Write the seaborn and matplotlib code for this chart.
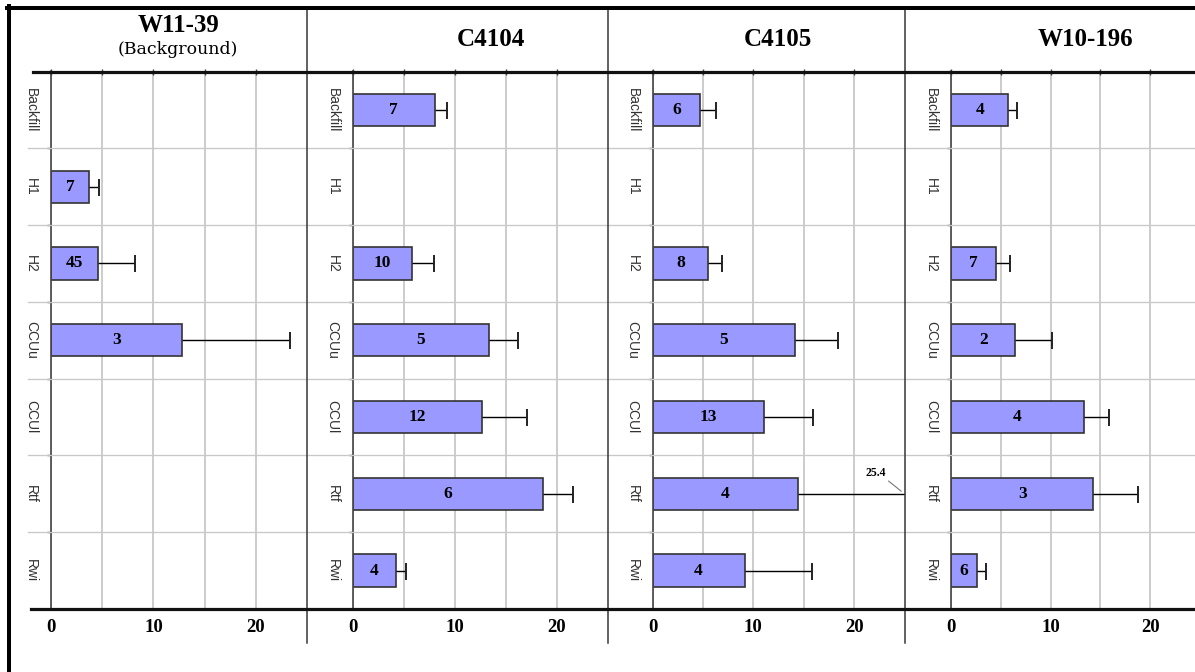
import numpy as np
import pandas as pd
import matplotlib
matplotlib.use("Agg")
import matplotlib.pyplot as plt
from matplotlib.lines import Line2D
import seaborn as sns

# ---- data -------------------------------------------------------------
layers = ["Backfill", "H1", "H2", "CCUu", "CCUl", "Rtf", "Rwi"]
wells = ["W11-39", "C4104", "C4105", "W10-196"]
subtitles = ["(Background)", "", "", ""]

nan = np.nan
# bar length (mean) and upper end of the error bar for every layer, plus sample counts
w11_39_mean = [nan, 3.74, 4.56, 12.75, nan, nan, nan]
w11_39_upper = [nan, 4.71, 8.2, 23.38, nan, nan, nan]
w11_39_n = [None, 7, 45, 3, None, None, None]

c4104_mean = [8.06, nan, 5.8, 13.34, 12.7, 18.7, 4.27]
c4104_upper = [9.24, nan, 7.93, 16.16, 17.04, 21.6, 5.25]
c4104_n = [7, None, 10, 5, 12, 6, 4]

c4105_mean = [4.73, nan, 5.53, 14.18, 11.07, 14.4, 9.13]
c4105_upper = [6.26, nan, 6.88, 18.37, 15.9, 25.4, 15.86]
c4105_n = [6, None, 8, 5, 13, 4, 4]

w10_196_mean = [5.76, nan, 4.52, 6.46, 13.37, 14.3, 2.64]
w10_196_upper = [6.66, nan, 5.93, 10.1, 15.9, 18.76, 3.52]
w10_196_n = [4, None, 7, 2, 4, 3, 6]

x_ticks = [0, 10, 20]
x_minor = [5, 15]
x_max = 25

means = [w11_39_mean, c4104_mean, c4105_mean, w10_196_mean]
uppers = [w11_39_upper, c4104_upper, c4105_upper, w10_196_upper]
counts = [w11_39_n, c4104_n, c4105_n, w10_196_n]

# ---- layout (pixels) --------------------------------------------------
W, H = 1195, 672
fig = plt.figure(figsize=(W / 100, H / 100), dpi=100)
fig.patch.set_facecolor("white")


def fx(px):
    return px / W


def fy(py):
    return 1 - py / H


PT = 72 / 100  # points per pixel
top_px, bot_px = 71.5, 609
panel_left = [51, 352.7, 652.5, 951]
panel_width = [256, 255, 252, 249]
title_x = [178, 491, 778, 1085]

SERIF = "Liberation Serif"
SANS = "Liberation Sans"
BAR = "#9999ff"
GRID = "#c8c8c8"

row_h = (bot_px - top_px) / len(layers)

# horizontal row separators running across all panels
for k in range(1, len(layers)):
    y = top_px + k * row_h
    fig.add_artist(Line2D([fx(28), 1.0], [fy(y), fy(y)], color=GRID,
                          lw=1.3 * PT, zorder=0.5))

for p, well in enumerate(wells):
    ax = fig.add_axes([fx(panel_left[p]), fy(bot_px),
                       panel_width[p] / W, (bot_px - top_px) / H])
    ax.set_facecolor("none")

    df = pd.DataFrame({"layer": layers, "value": means[p]}).dropna()
    sns.barplot(data=df, x="value", y="layer", order=layers, orient="h",
                color=BAR, saturation=1, edgecolor="#333333", linewidth=1.2,
                width=0.42, errorbar=None, ax=ax, zorder=2)

    idx = [i for i, m in enumerate(means[p]) if not np.isnan(m)]
    m = np.array([means[p][i] for i in idx])
    u = np.array([uppers[p][i] for i in idx])

    # one-sided error bars with a cap at the upper end
    ax.errorbar(m, idx, xerr=[np.zeros_like(m), u - m], fmt="none",
                ecolor="black", elinewidth=1.0, capsize=0, zorder=3)
    ax.plot(u, idx, ls="none", marker="|", ms=17 * PT, mew=1.4,
            color="#222222", zorder=3)

    # sample counts inside the bars
    for i, mi in zip(idx, m):
        ax.text(mi / 2, i, str(counts[p][i]), ha="center", va="center",
                fontsize=12.5, fontweight="bold", family=SERIF, zorder=4)

    # error bars running past the axis limit get their value written out
    for i, ui in zip(idx, u):
        if ui > x_max:
            ax.annotate(f"{ui:.1f}", xy=(x_max, i), xycoords="data",
                        xytext=(-29 * PT, 21 * PT), textcoords="offset points",
                        ha="center", va="center", fontsize=8.5,
                        fontweight="bold", family=SERIF, annotation_clip=False,
                        arrowprops=dict(arrowstyle="-", color="#777777",
                                        lw=0.8, relpos=(1, 0),
                                        shrinkA=0, shrinkB=3))

    ax.set_xlim(0, x_max)
    ax.set_ylim(len(layers) - 0.5, -0.5)
    ax.set_xticks(x_ticks)
    ax.set_xticks(x_minor, minor=True)
    ax.set_xticklabels([str(t) for t in x_ticks], family=SERIF,
                       fontweight="bold", fontsize=13.5)
    ax.grid(axis="x", which="both", color=GRID, lw=1.3)
    ax.set_axisbelow(True)

    ax.set_yticks(range(len(layers)))
    ax.set_yticks(np.arange(0.5, len(layers) - 1, 1), minor=True)
    ax.set_yticklabels(layers, rotation=270, ha="center", va="center",
                       fontsize=10, family=SANS, color="#333333")
    ax.tick_params(axis="y", which="major", length=0, pad=20 * PT)
    ax.tick_params(axis="y", which="minor", length=3, direction="out",
                   color="#333333", width=1)
    ax.tick_params(axis="x", which="both", top=True, bottom=False,
                   labeltop=False, labelbottom=True, direction="inout",
                   length=5, color="#444444", width=1, pad=5)

    for s in ["top", "bottom", "right"]:
        ax.spines[s].set_visible(False)
    ax.spines["left"].set_color("#444444")
    ax.spines["left"].set_linewidth(1.2)
    ax.set_xlabel("")
    ax.set_ylabel("")

    # panel titles
    if subtitles[p]:
        fig.text(fx(title_x[p]), fy(25.5), well, ha="center", va="center",
                 fontsize=18, fontweight="bold", family=SERIF)
        fig.text(fx(title_x[p]), fy(50), subtitles[p], ha="center",
                 va="center", fontsize=12.5, family="DejaVu Serif")
    else:
        fig.text(fx(title_x[p]), fy(40), well, ha="center", va="center",
                 fontsize=18, fontweight="bold", family=SERIF)

    # divider on the right edge of the panel
    xr = panel_left[p] + panel_width[p]
    fig.add_artist(Line2D([fx(xr), fx(xr)], [fy(7), fy(643)],
                          color="#333333", lw=1.5 * PT, zorder=3))

# thick lines bounding the plotting area
fig.add_artist(Line2D([fx(33), 1.0], [fy(top_px), fy(top_px)],
                      color="#111111", lw=3.2 * PT, zorder=3))
fig.add_artist(Line2D([fx(31), 1.0], [fy(bot_px), fy(bot_px)],
                      color="#111111", lw=3.2 * PT, zorder=3))

# outer frame (top and left edges)
fig.add_artist(Line2D([fx(7), 1.0], [fy(8), fy(8)], color="black",
                      lw=4 * PT, zorder=4))
fig.add_artist(Line2D([fx(9), fx(9)], [fy(6), 0.0], color="black",
                      lw=4 * PT, zorder=4))

fig.savefig("out.png", dpi=100)
